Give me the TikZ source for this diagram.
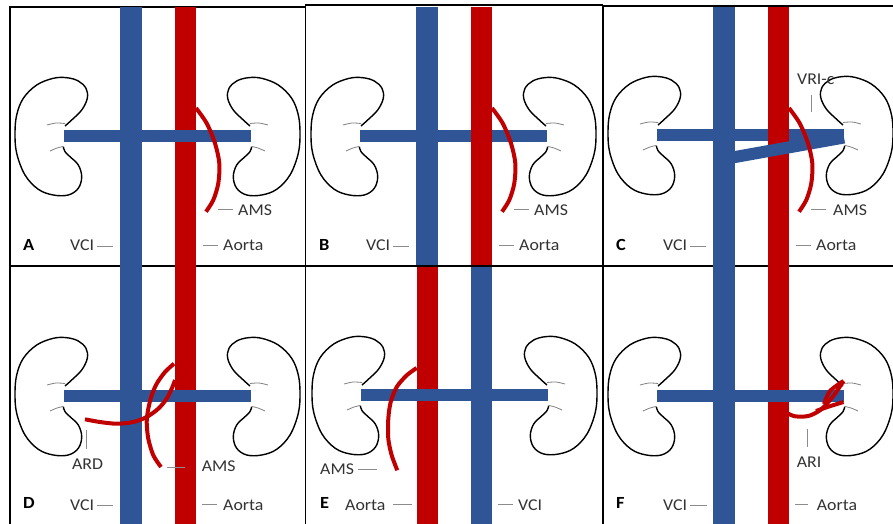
\documentclass[tikz,border=0pt]{standalone}
\usepackage{fontspec}
\setmainfont{Carlito}
\usepackage{graphicx}
\definecolor{vein}{HTML}{2F5597}
\definecolor{artery}{HTML}{C00000}
\definecolor{leader}{HTML}{8C8C8C}
\definecolor{ink}{HTML}{333333}
\newcommand\wide[1]{\scalebox{1.08}[1]{#1}}
\tikzset{
  vcol/.style={draw=vein, line width=21.5pt},
  acol/.style={draw=artery, line width=21pt},
  renal/.style={draw=vein, line width=12pt},
  branch/.style={draw=artery, line width=4pt},
  organ/.style={draw=black, line width=1.4pt},
  sinus/.style={draw=gray, line width=0.8pt},
  leadline/.style={draw=leader, line width=1pt},
  frameline/.style={draw=black, line width=1.6pt},
  lab/.style={inner sep=0pt, text=ink, font=\fontsize{16.5}{18}\selectfont},
  tag/.style={inner sep=0pt, text=black, font=\bfseries\fontsize{17}{19}\selectfont},
  kidney/.pic={
    \draw[organ] plot[smooth, tension=0.6] coordinates {
      (1,-10) (7.7,-16) (17.7,-26) (23.3,-37.7) (22,-47.7) (14.3,-55)
      (2.7,-58.3) (-10.7,-57.7) (-27.3,-51) (-40.7,-37.7) (-47.3,-21)
      (-49,-2.7) (-47.3,17.3) (-39,39) (-25.7,53.3) (-10.7,59) (4.3,59)
      (14.3,52.3) (17.7,40.7) (14.3,29) (6,20.7) (1,15.7) (-0.7,10.7)};
    \draw[sinus] plot[smooth] coordinates {(-17,-11) (-8,-13) (1,-12.5)};
    \draw[sinus] plot[smooth] coordinates {(-14,15) (-7,12) (-1,10.5)};
  }
}
\begin{document}
\begin{tikzpicture}[x=1pt, y=-1pt]
\useasboundingbox (0,0) rectangle (893,524);
\fill[white] (0,0) rectangle (893,524);

% panel frames
\draw[frameline] (10,524) -- (10,7) -- (305.5,7);
\draw[frameline] (305.5,524) -- (305.5,5) -- (603,5);
\draw[frameline] (603,524) -- (603,6) -- (893,6);
\draw[frameline] (10,266) -- (893,266);

% kidneys
\foreach \hx/\hy in {64/136, 360/136, 657/135, 64/396, 361/395, 657/396} {
  \pic at (\hx,\hy) {kidney};
}
\foreach \hx/\hy in {251/136, 547/136, 844/135, 251/396, 548/395, 844/396} {
  \pic[xscale=-1] at (\hx,\hy) {kidney};
}

% ---- column 1 (A, D): shared great vessels
\draw[vcol] (131,7) -- (131,524);
\draw[acol] (185.5,7) -- (185.5,524);
\draw[renal] (64,136) -- (251,136);
\draw[renal] (64,396) -- (251,396);
% A: mesenteric artery
\draw[branch] plot[smooth] coordinates {(196,108) (206.7,123.3) (215,143.3) (219.3,163.3) (218.3,183.3) (213.3,200) (206,211.7)};
% D: mesenteric artery and right renal artery
\draw[branch] plot[smooth] coordinates {(174,363.7) (165,372) (156.7,383.7) (151.7,395.3) (148.3,408.7) (146.7,422) (148.3,438.7) (153.3,455.3) (161,467)};
\draw[branch] plot[smooth] coordinates {(85,419.3) (100,422) (116.7,423.7) (133.3,422) (146.7,417) (158.3,408.7) (166.7,398.7) (172,388) (175,380)};

% ---- column 2 (B): vein behind the aorta
\draw[vcol] (427,7) -- (427,265);
\draw[renal] (360,136) -- (547,136);
\draw[acol] (481.5,7) -- (481.5,265);
\draw[branch] plot[smooth] coordinates {(492,108) (502.7,123.3) (511,143.3) (515.3,163.3) (514.3,183.3) (509.3,200) (502,211.7)};

% ---- column 2 (E): transposed vessels
\draw[acol] (427,267) -- (427,524);
\draw[vcol] (481.5,267) -- (481.5,524);
\draw[renal] (361,395) -- (548,395);
\draw[branch] plot[smooth] coordinates {(416.7,368) (406.7,375.3) (396.7,387) (390.7,402) (388.3,418.7) (388.3,438.7) (391.7,455.3) (397.3,470.3)};

% ---- column 3 (C, F): shared great vessels
\draw[vcol] (724,7) -- (724,524);
\draw[renal] (657,135) -- (844,135);
\draw[acol] (778,7) -- (778,524);
\draw[renal] (724,159) -- (844,137.5);
\draw[renal] (657,396) -- (844,396);
% C: mesenteric artery
\draw[branch] plot[smooth] coordinates {(789,108) (799.7,123.3) (808,143.3) (812.3,163.3) (811.3,183.3) (806.3,200) (799,211.7)};
% F: inferior renal artery
\draw[branch] plot[smooth] coordinates {(787,413) (795,416.3) (808.3,416) (820,410.3) (828.3,402) (835,393.7) (843.5,381)};
\draw[branch] plot[smooth] coordinates {(816,411) (829,406.5) (843.5,402)};
\draw[branch] plot[smooth] coordinates {(824,404) (830,391) (843.5,381)};

% ---- labels, panel A
\node[tag, anchor=base west] (tagA) at (23,250.5) {\wide{A}};
\node[lab, anchor=base west] (vciA) at (70,250.5) {\wide{VCI}};
\draw[leadline] (97,246) -- (113,246);
\node[lab, anchor=base west] (aoA) at (223,250.5) {\wide{Aorta}};
\draw[leadline] (203,245) -- (218,245);
\node[lab, anchor=base west] (amsA) at (238,215) {\wide{AMS}};
\draw[leadline] (218,209) -- (233,209);

% ---- labels, panel B
\node[tag, anchor=base west] (tagB) at (319,250.5) {\wide{B}};
\node[lab, anchor=base west] (vciB) at (366,250.5) {\wide{VCI}};
\draw[leadline] (393,246) -- (409,246);
\node[lab, anchor=base west] (aoB) at (519,250.5) {\wide{Aorta}};
\draw[leadline] (499,245) -- (514,245);
\node[lab, anchor=base west] (amsB) at (534,215) {\wide{AMS}};
\draw[leadline] (514,209) -- (529,209);

% ---- labels, panel C
\node[tag, anchor=base west] (tagC) at (616,250.5) {\wide{C}};
\node[lab, anchor=base west] (vciC) at (663,250.5) {\wide{VCI}};
\draw[leadline] (690,246) -- (706,246);
\node[lab, anchor=base west] (aoC) at (816,250.5) {\wide{Aorta}};
\draw[leadline] (796,245) -- (811,245);
\node[lab, anchor=base west] (amsC) at (833,215) {\wide{AMS}};
\draw[leadline] (811,209) -- (826,209);
\node[lab, anchor=base west] (vric) at (797,85) {\wide{VRI-c}};
\draw[leadline] (811.7,95) -- (811.7,111.7);

% ---- labels, panel D
\node[tag, anchor=base west] (tagD) at (23,508) {\wide{D}};
\node[lab, anchor=base west] (vciD) at (70,510) {\wide{VCI}};
\draw[leadline] (97,505) -- (113,505);
\node[lab, anchor=base west] (aoD) at (223,510) {\wide{Aorta}};
\draw[leadline] (202,504) -- (217,504);
\node[lab, anchor=base] (ard) at (87.5,469) {\wide{ARD}};
\draw[leadline] (86.7,430) -- (86.7,449);
\node[lab, anchor=base west] (amsD) at (201.7,471.3) {\wide{AMS}};
\draw[leadline] (166.7,467) -- (185,467);

% ---- labels, panel E
\node[tag, anchor=base west] (tagE) at (320,508) {\wide{E}};
\node[lab, anchor=base west] (aoE) at (345,510) {\wide{Aorta}};
\draw[leadline] (393.3,504) -- (411.7,504);
\node[lab, anchor=base west] (vciE) at (518,510) {\wide{VCI}};
\draw[leadline] (498,504) -- (513,504);
\node[lab, anchor=base west] (amsE) at (320,474.6) {\wide{AMS}};
\draw[leadline] (358.3,469) -- (376.7,469);

% ---- labels, panel F
\node[tag, anchor=base west] (tagF) at (616,508) {\wide{F}};
\node[lab, anchor=base west] (vciF) at (663,510) {\wide{VCI}};
\draw[leadline] (690,505) -- (706.7,505);
\node[lab, anchor=base west] (aoF) at (816.7,510) {\wide{Aorta}};
\draw[leadline] (795,504) -- (808,504);
\node[lab, anchor=base] (ari) at (809,467) {\wide{ARI}};
\draw[leadline] (807.3,428.7) -- (807.3,447);
\end{tikzpicture}
\end{document}
